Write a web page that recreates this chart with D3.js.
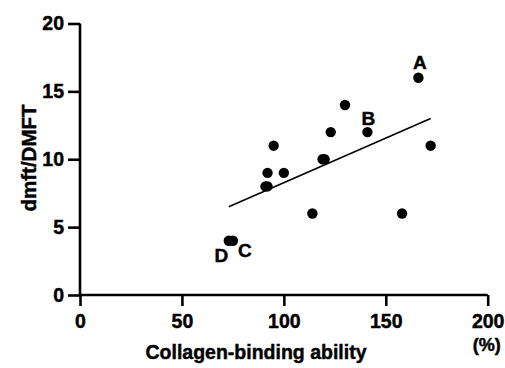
<!DOCTYPE html>
<html>
<head>
<meta charset="utf-8">
<script src="https://cdn.jsdelivr.net/npm/d3@7/dist/d3.min.js"></script>
<style>
html,body{margin:0;padding:0;background:#fff;}
svg{display:block;}
text{font-family:"Liberation Sans", Arial, Helvetica, sans-serif;font-weight:bold;fill:#000;stroke:#000;stroke-width:0.45px;}
</style>
</head>
<body>
<svg id="chart" width="505" height="368"></svg>
<script>
// Data
const xValues = [166, 130, 141, 123, 95, 172, 119, 120, 92, 100, 91, 92, 114, 158, 73, 75];
const yValues = [16, 14, 12, 12, 11, 11, 10, 10, 9, 9, 8, 8, 6, 6, 4, 4];
const pointLabels = ["A", "", "B", "", "", "", "", "", "", "", "", "", "", "", "D", "C"];
const fitX = [73, 172];
const fitY = [6.5, 13.0];
const xTicks = [0, 50, 100, 150, 200];
const yTicks = [0, 5, 10, 15, 20];
const xTitle = "Collagen-binding ability";
const yTitle = "dmft/DMFT";
const xUnit = "(%)";

const labelOffsets = {A: [1.5, -9], B: [1, -7], D: [-7.5, 21.5], C: [12, 16.5]};

const svg = d3.select("#chart");
const x = d3.scaleLinear().domain([0, 200]).range([80, 487.7]);
const y = d3.scaleLinear().domain([0, 20]).range([295, 23.5]);

// Axes
const xAxis = svg.append("g").attr("transform", `translate(0,${y(0)})`)
  .call(d3.axisBottom(x).tickValues(xTicks).tickSize(11).tickPadding(8).tickFormat(d3.format("d")));
const yAxis = svg.append("g").attr("transform", `translate(${x(0)},0)`)
  .call(d3.axisLeft(y).tickValues(yTicks).tickSize(12).tickPadding(4).tickFormat(d3.format("d")));

[xAxis, yAxis].forEach(g => {
  g.select(".domain").attr("stroke", "#000").attr("stroke-width", 2.6);
  g.selectAll(".tick line").attr("stroke", "#000").attr("stroke-width", 2.6);
  g.selectAll(".tick text").style("font-size", "19.5px").style("font-family", "'Liberation Sans', Arial, sans-serif").style("font-weight", "bold").attr("fill", "#000");
});
// extend domains to cover the corner cleanly
xAxis.select(".domain").attr("d", `M${x(0) - 1.3},0H${x(200)}`);
yAxis.select(".domain").attr("d", `M0,${y(0) + 1.3}V${y(20)}`);

// Fit line
svg.append("line")
  .attr("x1", x(fitX[0])).attr("y1", y(fitY[0]))
  .attr("x2", x(fitX[1])).attr("y2", y(fitY[1]))
  .attr("stroke", "#000").attr("stroke-width", 1.6);

// Points
const pts = xValues.map((v, i) => ({x: v, y: yValues[i], label: pointLabels[i]}));
svg.append("g").selectAll("circle").data(pts).join("circle")
  .attr("cx", d => x(d.x)).attr("cy", d => y(d.y)).attr("r", 5.2).attr("fill", "#000");

// Point labels
svg.append("g").selectAll("text").data(pts.filter(d => d.label)).join("text")
  .attr("x", d => x(d.x) + labelOffsets[d.label][0])
  .attr("y", d => y(d.y) + labelOffsets[d.label][1])
  .attr("text-anchor", "middle")
  .style("font-size", "19px")
  .text(d => d.label);

// Titles
svg.append("text").attr("x", 256).attr("y", 359).attr("text-anchor", "middle")
  .style("font-size", "19.5px").text(xTitle);
svg.append("text").attr("x", x(200) - 1).attr("y", 351).attr("text-anchor", "middle")
  .style("font-size", "18px").text(xUnit);
svg.append("text").attr("transform", "translate(36,158) rotate(-90)").attr("text-anchor", "middle")
  .style("font-size", "20.5px").text(yTitle);
</script>
</body>
</html>
